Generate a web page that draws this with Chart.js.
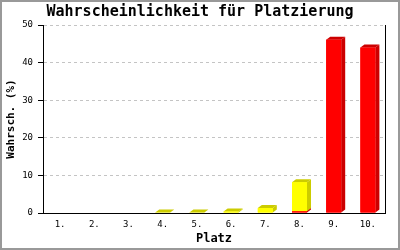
<!DOCTYPE html>
<html>
<head>
<meta charset="utf-8">
<script src="https://cdn.jsdelivr.net/npm/chart.js@4"></script>
<style>
  body { margin: 0; background: #fff; }
  #wrap { position: relative; width: 400px; height: 250px; }
  #frame { position: absolute; left: 0; top: 0; width: 400px; height: 250px; box-sizing: border-box; border: 2px solid #999; pointer-events: none; }
</style>
</head>
<body>
<div id="wrap">
  <canvas id="chart" width="400" height="250"></canvas>
  <div id="frame"></div>
</div>
<script>
const places = ["1.", "2.", "3.", "4.", "5.", "6.", "7.", "8.", "9.", "10."];
const redValues = [0, 0, 0, 0, 0, 0, 0, 0.5, 46.1, 44.0];
const yellowValues = [0, 0, 0, 0.1, 0.1, 0.4, 1.3, 7.7, 0, 0];
const yTicks = [0, 10, 20, 30, 40, 50];

const mono = "'DejaVu Sans Mono', 'Liberation Mono', monospace";
const depthX = 4;
const depthY = 3;

// fake 3d: side and top faces for each bar, bottom segment first
const bars3d = {
    id: "bars3d",
    afterDatasetsDraw(chart) {
        const ctx = chart.ctx;
        ctx.save();
        chart.data.datasets.forEach((ds, i) => {
            chart.getDatasetMeta(i).data.forEach((bar, j) => {
                if (!ds.data[j]) return;
                const p = bar.getProps(["x", "y", "base", "width"], true);
                const l = p.x - p.width / 2;
                const r = p.x + p.width / 2;
                const top = Math.min(p.y, p.base);
                const bottom = Math.max(p.y, p.base);

                ctx.fillStyle = ds.sideColor;
                ctx.beginPath();
                ctx.moveTo(r, bottom);
                ctx.lineTo(r + depthX, bottom - depthY);
                ctx.lineTo(r + depthX, top - depthY);
                ctx.lineTo(r, top);
                ctx.closePath();
                ctx.fill();

                ctx.beginPath();
                ctx.moveTo(l, top);
                ctx.lineTo(l + depthX, top - depthY);
                ctx.lineTo(r + depthX, top - depthY);
                ctx.lineTo(r, top);
                ctx.closePath();
                ctx.fill();

                ctx.fillStyle = ds.backgroundColor;
                ctx.fillRect(l, top, r - l, bottom - top);
            });
        });
        ctx.restore();
    }
};

new Chart(document.getElementById("chart"), {
    type: "bar",
    data: {
        labels: places,
        datasets: [
            {data: redValues, backgroundColor: "#ff0000", sideColor: "#cc0000", barThickness: 15, inflateAmount: 0},
            {data: yellowValues, backgroundColor: "#ffff00", sideColor: "#cccc00", barThickness: 15, inflateAmount: 0}
        ]
    },
    options: {
        responsive: false,
        animation: false,
        devicePixelRatio: 1,
        layout: {padding: 0},
        plugins: {
            legend: {display: false},
            tooltip: {enabled: false},
            title: {
                display: true,
                text: "Wahrscheinlichkeit für Platzierung",
                color: "#000",
                font: {family: mono, size: 15, weight: "bold"},
                padding: {top: 3, bottom: 4}
            }
        },
        scales: {
            x: {
                stacked: true,
                grid: {display: true, drawOnChartArea: false, drawTicks: false},
                border: {display: true, color: "#000", width: 1},
                ticks: {color: "#000", padding: 6, font: {family: mono, size: 9}},
                title: {display: true, text: "Platz", color: "#000", padding: {top: 2, bottom: 4},
                    font: {family: mono, size: 12, weight: "bold"}},
                afterFit: s => { s.height = 37; }
            },
            y: {
                stacked: true,
                min: 0,
                max: 50,
                afterBuildTicks: s => { s.ticks = yTicks.map(v => ({value: v})); },
                grid: {color: "#c4c4c4", tickColor: "#000", tickLength: 5, tickBorderDash: [10, 0]},
                border: {display: true, color: "#000", width: 1, dash: [3, 3]},
                ticks: {color: "#000", padding: 5, font: {family: mono, size: 9}},
                title: {display: true, text: "Wahrsch. (%)", color: "#000", padding: {top: 5, bottom: 2},
                    font: {family: mono, size: 11, weight: "bold"}},
                afterFit: s => { s.width = 43; }
            },
            y2: {
                position: "right",
                min: 0,
                max: 50,
                grid: {display: false},
                ticks: {display: false},
                border: {display: true, color: "#000", width: 1},
                afterFit: s => { s.width = 15; }
            }
        }
    },
    plugins: [bars3d]
});
</script>
</body>
</html>
